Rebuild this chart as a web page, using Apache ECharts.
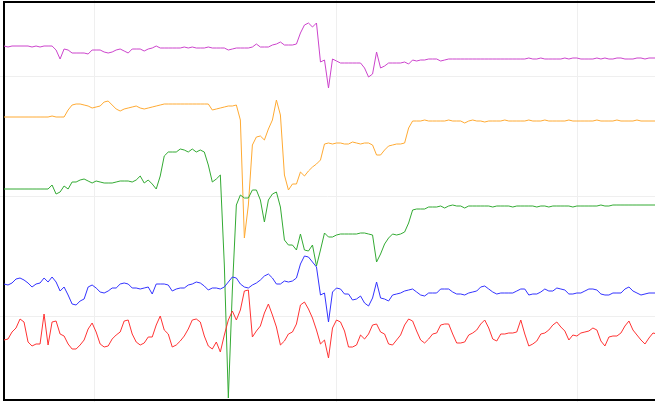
<!DOCTYPE html>
<html>
<head>
<meta charset="utf-8">
<script src="https://cdn.jsdelivr.net/npm/echarts@6/dist/echarts.min.js"></script>
<style>
  html, body { margin: 0; padding: 0; background: #fff; }
  #main { width: 655px; height: 402px; }
</style>
</head>
<body>
<div id="main"></div>
<script>
// one sample every 4px
var magenta = [
  354,353,354,354,354,354,354,353,354,353,
  354,354,354,350,341,351,350,347,347,347,
  347,346,350,350,350,348,347,348,350,351,
  349,347,351,351,351,349,351,352,354,352,
  352,352,352,352,352,353,352,353,352,352,
  352,353,352,352,352,352,350,351,352,352,
  352,352,353,356,353,353,353,355,356,358,
  355,355,355,356,367,375,377,373,377,338,
  340,312,341,339,337,337,337,337,337,337,
  332,323,326,348,332,334,337,337,337,337,
  338,336,340,339,340,340,341,341,341,339,
  340,341,341,341,341,341,341,341,341,341,
  341,341,341,341,341,341,341,341,341,341,
  341,342,341,341,342,341,341,341,341,341,
  342,341,342,342,341,341,341,341,342,341,
  342,341,341,342,342,341,341,341,342,342,
  341,342,342,342,342
]
var orange = [
  283,283,283,283,283,283,283,283,283,283,
  283,283,284,283,283,283,290,295,296,296,
  295,294,292,293,294,298,299,295,291,289,
  291,292,293,294,292,291,292,293,294,295,
  296,296,296,296,296,296,296,296,296,296,
  296,296,290,291,292,293,294,294,295,280,
  162,195,255,263,264,260,271,280,300,285,
  225,210,216,216,228,224,229,233,236,240,
  256,257,256,257,257,256,256,258,257,256,
  257,257,255,245,245,250,254,255,256,256,
  257,272,279,279,279,280,279,279,279,279,
  279,280,279,279,279,277,279,280,279,279,
  278,279,279,279,279,280,279,279,279,279,
  279,280,279,279,279,280,279,279,279,279,
  279,280,279,279,279,279,279,279,280,279,
  279,279,279,280,279,279,279,279,280,279,
  279,279,279,279,279
]
var green = [
  211,211,211,211,211,211,211,211,211,211,
  211,211,215,206,208,214,211,218,218,220,
  221,219,217,219,218,217,217,217,218,219,
  219,219,218,220,224,217,220,216,211,224,
  244,248,248,248,251,250,248,251,248,250,
  248,235,218,221,225,135,2,110,195,205,
  202,202,210,210,200,178,200,206,208,193,
  160,155,155,150,166,150,149,155,134,150,
  167,163,163,165,166,166,166,166,166,167,
  167,166,165,138,146,156,162,166,165,166,
  168,177,190,191,191,191,193,193,193,194,
  192,194,195,194,194,192,194,194,194,194,
  194,194,193,194,194,194,194,193,194,194,
  194,194,194,193,194,194,193,194,194,194,
  194,194,193,194,194,194,194,194,194,195,
  194,194,195,195,195,195,195,195,195,195,
  195,195,195,195,195
]
var blue = [
  116,115,117,121,122,120,117,113,116,117,
  122,118,123,118,109,113,105,96,95,99,
  101,113,115,112,108,107,109,112,112,116,
  117,116,112,112,111,112,113,106,116,116,
  116,115,109,111,112,112,115,116,118,117,
  114,110,112,112,111,113,118,123,122,116,
  113,112,115,117,120,124,126,122,116,116,
  119,118,119,122,136,144,143,138,133,105,
  107,78,108,112,111,106,106,100,101,104,
  97,94,102,118,102,101,99,105,106,107,
  109,110,111,108,105,104,107,107,107,111,
  111,111,108,106,106,105,107,108,109,113,
  114,111,108,106,107,107,107,107,109,111,
  111,105,106,106,108,111,109,109,112,111,
  110,106,106,107,107,109,111,111,110,106,
  105,105,107,107,107,111,113,109,107,105,
  106,107,107,107,107
]
var red = [
  60,61,68,72,81,78,58,54,56,56,
  86,55,78,79,66,64,56,51,51,55,
  60,71,77,68,56,53,54,61,65,68,
  79,80,66,58,55,57,63,63,75,84,
  70,66,53,55,59,64,71,80,81,78,
  64,54,51,58,48,65,80,89,80,90,
  109,110,63,69,74,87,96,85,73,55,
  59,66,68,76,95,98,91,82,70,56,
  60,42,72,80,78,69,53,53,55,65,
  61,66,75,76,68,66,56,55,60,65,
  75,81,79,69,60,57,61,66,67,75,
  76,76,66,57,57,58,65,67,70,76,
  80,72,61,59,66,66,67,67,68,80,
  66,54,56,59,66,67,70,75,78,73,
  69,60,65,64,67,68,69,72,70,59,
  54,63,64,64,67,74,79,70,65,60,
  56,62,67,66,66
]
var samples = magenta.map(function (v, i) { return i })

var chart = echarts.init(document.getElementById('main'))

function trace(name, data, color) {
  return {
    name: name,
    type: 'line',
    xAxisIndex: 1,
    yAxisIndex: 1,
    data: data,
    symbol: 'none',
    lineStyle: { width: 1, color: color },
    itemStyle: { color: color }
  }
}

var hidden = { show: false }

chart.setOption({
  animation: false,
  grid: [
    // background grid only for the faint split lines
    { left: -147, top: -43.5, width: 966, height: 480, show: false,
      outerBoundsMode: 'none' },
    // plot area with the black frame
    { left: 4, top: 2, right: -6, bottom: 2, show: true, z: 1,
      outerBoundsMode: 'none',
      borderColor: '#000', borderWidth: 2, backgroundColor: 'transparent' }
  ],
  xAxis: [
    { type: 'value', gridIndex: 0, min: 0, max: 4, interval: 1,
      axisLine: hidden, axisTick: hidden, axisLabel: hidden,
      splitLine: { show: true, lineStyle: { color: '#efefef', width: 1 } } },
    { type: 'category', gridIndex: 1, data: samples, boundaryGap: false,
      axisLine: hidden, axisTick: hidden, axisLabel: hidden, splitLine: hidden }
  ],
  yAxis: [
    { type: 'value', gridIndex: 0, min: 0, max: 4, interval: 1,
      axisLine: hidden, axisTick: hidden, axisLabel: hidden,
      splitLine: { show: true, lineStyle: { color: '#efefef', width: 1 } } },
    { type: 'value', gridIndex: 1, min: 0, max: 398,
      axisLine: hidden, axisTick: hidden, axisLabel: hidden, splitLine: hidden }
  ],
  series: [
    trace('magenta', magenta, '#cc44cc'),
    trace('orange', orange, '#ffaa33'),
    trace('green', green, '#33aa33'),
    trace('blue', blue, '#3333ff'),
    trace('red', red, '#ff3333')
  ]
})
</script>
</body>
</html>
